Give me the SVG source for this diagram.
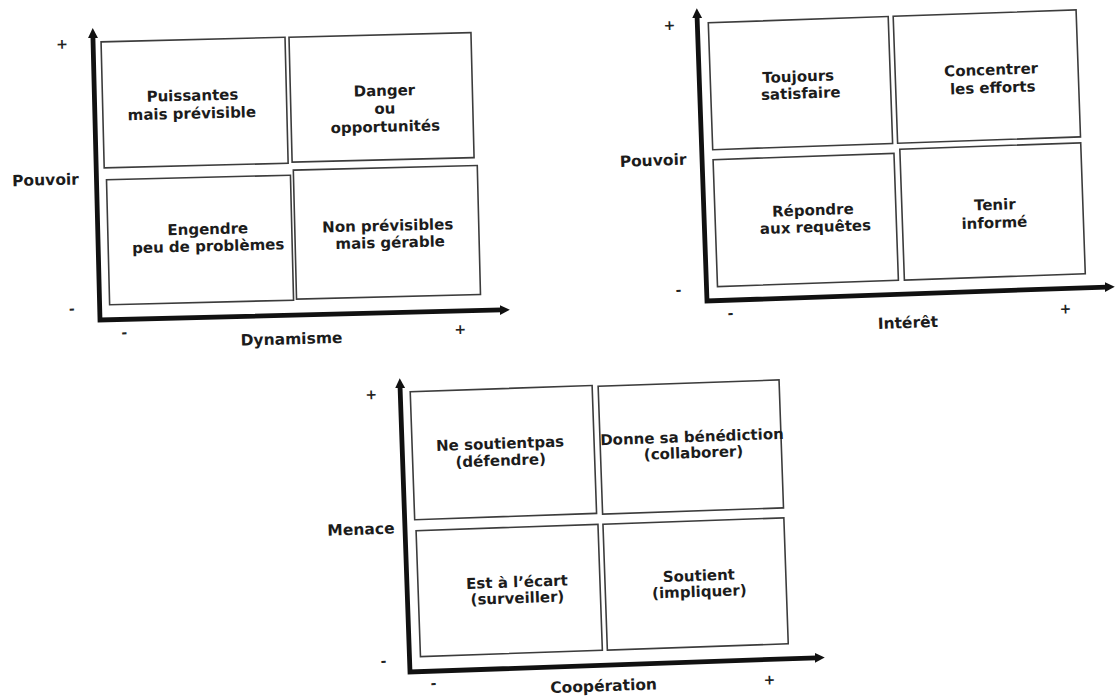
<svg xmlns="http://www.w3.org/2000/svg" width="1117" height="700" viewBox="0 0 1117 700">
  <defs>
    <marker id="arrow" viewBox="0 0 10 10" refX="2" refY="5" markerUnits="userSpaceOnUse" markerWidth="10" markerHeight="11" orient="auto-start-reverse">
      <path d="M0,0 L10,5 L0,10 z" fill="#111"/>
    </marker>
  </defs>
  <style>
    .axis { fill: none; stroke: #111; stroke-width: 4.8; stroke-linejoin: miter; marker-start: url(#arrow); marker-end: url(#arrow); }
    .box { fill: none; stroke: #3c3c3c; stroke-width: 1.6; }
    .t { font-family: "DejaVu Sans", "Liberation Sans", sans-serif; font-weight: bold; font-size: 15px; fill: #1c1c1c; text-anchor: middle; }
    .lab { font-family: "DejaVu Sans", "Liberation Sans", sans-serif; font-weight: bold; font-size: 15.5px; fill: #1c1c1c; text-anchor: middle; }
    .sign { font-family: "DejaVu Sans", "Liberation Sans", sans-serif; font-weight: bold; font-size: 14px; fill: #222; text-anchor: middle; }
  </style>
  <rect width="1117" height="700" fill="#fff"/>

  <!-- Matrix 1: Pouvoir / Dynamisme -->
  <g id="matrix-dynamisme" transform="rotate(-1.43 100 320)">
    <g id="m1-connectors">
      <path class="axis" d="M100,36 L100,320 L502,320"/>
    </g>
    <g id="m1-tl"><rect class="box" x="108" y="42" width="184" height="126"/>
      <text class="t" x="198" y="103">Puissantes</text><text class="t" x="197" y="121">mais prévisible</text></g>
    <g id="m1-tr"><rect class="box" x="296" y="42" width="182" height="125"/>
      <text class="t" x="390" y="103">Danger</text><text class="t" x="390" y="121">ou</text><text class="t" x="390" y="139">opportunités</text></g>
    <g id="m1-bl"><rect class="box" x="110" y="180" width="184" height="125"/>
      <text class="t" x="210" y="237">Engendre</text><text class="t" x="210" y="254">peu de problèmes</text></g>
    <g id="m1-br"><rect class="box" x="297" y="175" width="184" height="129"/>
      <text class="t" x="390" y="238">Non prévisibles</text><text class="t" x="392" y="255">mais gérable</text></g>
    <g id="m1-labels">
      <text class="lab" x="49" y="184">Pouvoir</text>
      <text class="lab" x="291" y="349">Dynamisme</text>
      <text class="sign" x="69" y="48">+</text>
      <text class="sign" x="72" y="313">-</text>
      <text class="sign" x="124" y="338">-</text>
      <text class="sign" x="460" y="343">+</text>
    </g>
  </g>

  <!-- Matrix 2: Pouvoir / Intérêt -->
  <g id="matrix-interet" transform="rotate(-2 707 301)">
    <g id="m2-connectors">
      <path class="axis" d="M707,16 L707,301 L1107,301"/>
    </g>
    <g id="m2-tl"><rect class="box" x="718" y="23" width="180" height="127"/>
      <text class="t" x="806" y="85">Toujours</text><text class="t" x="808" y="102">satisfaire</text></g>
    <g id="m2-tr"><rect class="box" x="903" y="23" width="183" height="127"/>
      <text class="t" x="999" y="85">Concentrer</text><text class="t" x="1000" y="103">les efforts</text></g>
    <g id="m2-bl"><rect class="box" x="718" y="160" width="181" height="127"/>
      <text class="t" x="816" y="219">Répondre</text><text class="t" x="818" y="236">aux requêtes</text></g>
    <g id="m2-br"><rect class="box" x="905" y="156" width="181" height="131"/>
      <text class="t" x="998" y="220">Tenir</text><text class="t" x="997" y="238">informé</text></g>
    <g id="m2-labels">
      <text class="lab" x="658" y="164">Pouvoir</text>
      <text class="lab" x="907" y="335">Intérêt</text>
      <text class="sign" x="679" y="29">+</text>
      <text class="sign" x="679" y="294">-</text>
      <text class="sign" x="730" y="319">-</text>
      <text class="sign" x="1065" y="326">+</text>
    </g>
  </g>

  <!-- Matrix 3: Menace / Coopération -->
  <g id="matrix-cooperation" transform="rotate(-2 410 672)">
    <g id="m3-connectors">
      <path class="axis" d="M410,386 L410,672 L817,672"/>
    </g>
    <g id="m3-tl"><rect class="box" x="420" y="392" width="182" height="128"/>
      <text class="t" x="508" y="452">Ne soutientpas</text><text class="t" x="508" y="469">(défendre)</text></g>
    <g id="m3-tr"><rect class="box" x="608" y="393" width="181" height="128"/>
      <text class="t" x="700" y="452">Donne sa bénédiction</text><text class="t" x="701" y="468">(collaborer)</text></g>
    <g id="m3-bl"><rect class="box" x="421" y="531" width="182" height="126"/>
      <text class="t" x="520" y="591">Est à l’écart</text><text class="t" x="520" y="607">(surveiller)</text></g>
    <g id="m3-br"><rect class="box" x="608" y="531" width="181" height="126"/>
      <text class="t" x="702" y="591">Soutient</text><text class="t" x="702" y="607">(impliquer)</text></g>
    <g id="m3-labels">
      <text class="lab" x="366" y="533">Menace</text>
      <text class="lab" x="603" y="698">Coopération</text>
      <text class="sign" x="381" y="398">+</text>
      <text class="sign" x="384" y="665">-</text>
      <text class="sign" x="433" y="689">-</text>
      <text class="sign" x="769" y="697">+</text>
    </g>
  </g>
</svg>
